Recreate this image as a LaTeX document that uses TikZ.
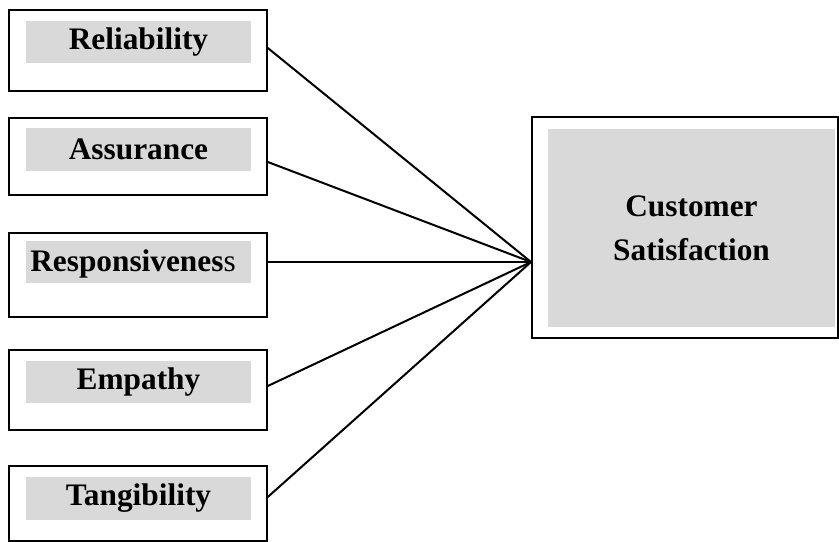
\documentclass[tikz,border=0pt]{standalone}
\usepackage{fontspec}
\setmainfont{Liberation Serif}
\usepackage{tikz}
\usetikzlibrary{calc}
\usetikzlibrary{positioning}
\definecolor{bandgray}{HTML}{D9D9D9}
\tikzstyle{dimbox} = [draw, line width=1.2pt, rectangle, minimum width=193.5pt, inner sep=0pt]
\tikzstyle{dimlabel} = [fill=bandgray, rectangle, minimum width=168.75pt, minimum height=32pt, inner sep=0pt, font=\fontsize{23.5}{28}\selectfont\bfseries]
\tikzstyle{outcomebox} = [draw, line width=1.5pt, rectangle, minimum width=229.5pt, minimum height=165.75pt, inner sep=0pt]
\tikzstyle{outcomefill} = [fill=bandgray, rectangle, minimum width=215.25pt, minimum height=148.5pt, align=center, inner sep=0pt, font=\fontsize{23.5}{33}\selectfont\bfseries]
\tikzstyle{link} = [line width=1.5pt]

\begin{document}
\begin{tikzpicture}[x=0.75pt, y=-0.75pt]
  \useasboundingbox (0,0) rectangle (839,542);

  % service quality dimensions
  \node[dimbox, minimum height=60.75pt] (rel) at (138,50.5) {};
  \node[dimlabel] (rel_l) at (138.5,42) {Reliability};
  \node[dimbox, minimum height=57.75pt] (ass) at (138,156.5) {};
  \node[dimlabel] (ass_l) at (138.5,149.5) {Assurance};
  \node[dimbox, minimum height=63pt] (res) at (138,275) {};
  \node[dimlabel] (res_l) at (138.5,262) {};
  \node[font=\fontsize{23.5}{28}\selectfont, inner sep=0pt] (res_t) at (133,263.5) {\textbf{Responsivenes}s};
  \node[dimbox, minimum height=60pt] (emp) at (138,390) {};
  \node[dimlabel] (emp_l) at (138.5,382) {Empathy};
  \node[dimbox, minimum height=56.25pt] (tan) at (138,503.5) {};
  \node[dimlabel] (tan_l) at (138.5,498.5) {Tangibility};

  % outcome
  \node[outcomebox] (cs) at (685,227.5) {};
  \node[outcomefill] (cs_l) at (691.5,228) {Customer\\Satisfaction};
  \coordinate (hub) at (cs.west |- res_l);

  \draw[link] (rel.east |- 0,48) -- (hub);
  \draw[link] (ass.east |- 0,162) -- (hub);
  \draw[link] (res.east |- res_l) -- (hub);
  \draw[link] (emp.east |- 0,386) -- (hub);
  \draw[link] (tan.east |- 0,497) -- (hub);
\end{tikzpicture}
\end{document}
